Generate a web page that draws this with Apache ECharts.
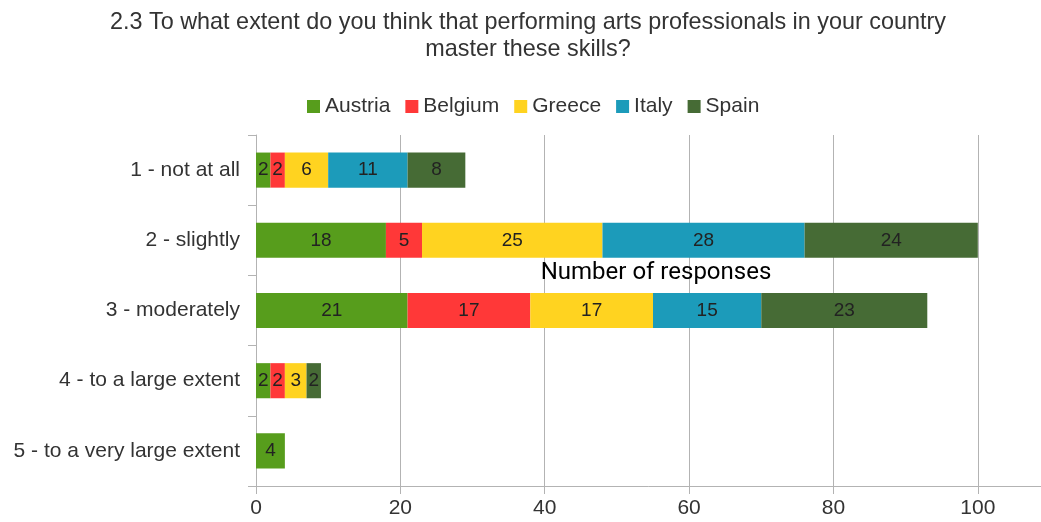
<!DOCTYPE html>
<html>
<head>
<meta charset="utf-8">
<script src="https://cdn.jsdelivr.net/npm/echarts@6/dist/echarts.min.js"></script>
<style>
html,body{margin:0;padding:0;background:#fff;}
#chart{width:1041px;height:522px;}
</style>
</head>
<body>
<div id="chart"></div>
<script>
var titleText = "2.3 To what extent do you think that performing arts professionals in your country\nmaster these skills?";
var categories = ["1 - not at all", "2 - slightly", "3 - moderately", "4 - to a large extent", "5 - to a very large extent"];
var seriesNames = ["Austria", "Belgium", "Greece", "Italy", "Spain"];
var austria = [2, 18, 21, 2, 4];
var belgium = [2, 5, 17, 2, null];
var greece = [6, 25, 17, 3, null];
var italy = [11, 28, 15, null, null];
var spain = [8, 24, 23, 2, null];
var xTicks = [0, 20, 40, 60, 80, 100];
var axisName = "Number of responses";

var colors = ["#579d1c", "#ff3838", "#ffd320", "#1c9bba", "#466b35"];
var values = [austria, belgium, greece, italy, spain];

var chart = echarts.init(document.getElementById('chart'));
var series = seriesNames.map(function (n, i) {
  return {
    name: n,
    type: 'bar',
    stack: 'total',
    barWidth: '50%',
    data: values[i],
    itemStyle: { color: colors[i] },
    label: {
      show: true,
      position: 'inside',
      color: '#222',
      fontFamily: 'Liberation Sans',
      fontSize: 19
    }
  };
});

chart.setOption({
  animation: false,
  backgroundColor: '#fff',
  title: {
    text: titleText,
    left: 523,
    textAlign: 'center',
    top: 4,
    textStyle: {
      fontFamily: 'Liberation Sans',
      fontSize: 23.4,
      fontWeight: 'normal',
      color: '#333',
      lineHeight: 27
    }
  },
  legend: {
    data: seriesNames,
    top: 91,
    left: 302,
    itemWidth: 13,
    itemHeight: 13,
    itemGap: 15,
    icon: 'rect',
    textStyle: {
      fontFamily: 'Liberation Sans',
      fontSize: 21,
      color: '#333'
    }
  },
  grid: {
    left: 256,
    top: 135,
    width: 794,
    height: 351,
    containLabel: false,
    outerBoundsMode: 'none'
  },
  xAxis: {
    type: 'value',
    min: 0,
    max: 110,
    interval: 20,
    name: axisName,
    nameLocation: 'middle',
    nameGap: -225,
    nameTextStyle: {
      fontFamily: 'Roboto',
      fontSize: 24,
      color: '#000',
      padding: [0, 0, 0, 6]
    },
    axisLine: { show: true, lineStyle: { color: '#b3b3b3' } },
    axisTick: { show: true, length: 8, lineStyle: { color: '#b3b3b3' } },
    splitLine: { show: true, lineStyle: { color: '#b3b3b3' } },
    axisLabel: {
      fontFamily: 'Liberation Sans',
      fontSize: 21,
      color: '#333',
      margin: 12,
      formatter: function (v) { return xTicks.indexOf(v) >= 0 ? String(v) : ''; }
    }
  },
  yAxis: {
    type: 'category',
    inverse: true,
    data: categories,
    axisLine: { show: true, lineStyle: { color: '#b3b3b3' } },
    axisTick: { show: true, length: 8, lineStyle: { color: '#b3b3b3' } },
    axisLabel: {
      fontFamily: 'Liberation Sans',
      fontSize: 21,
      color: '#333',
      margin: 16
    }
  },
  series: series
});
</script>
</body>
</html>
